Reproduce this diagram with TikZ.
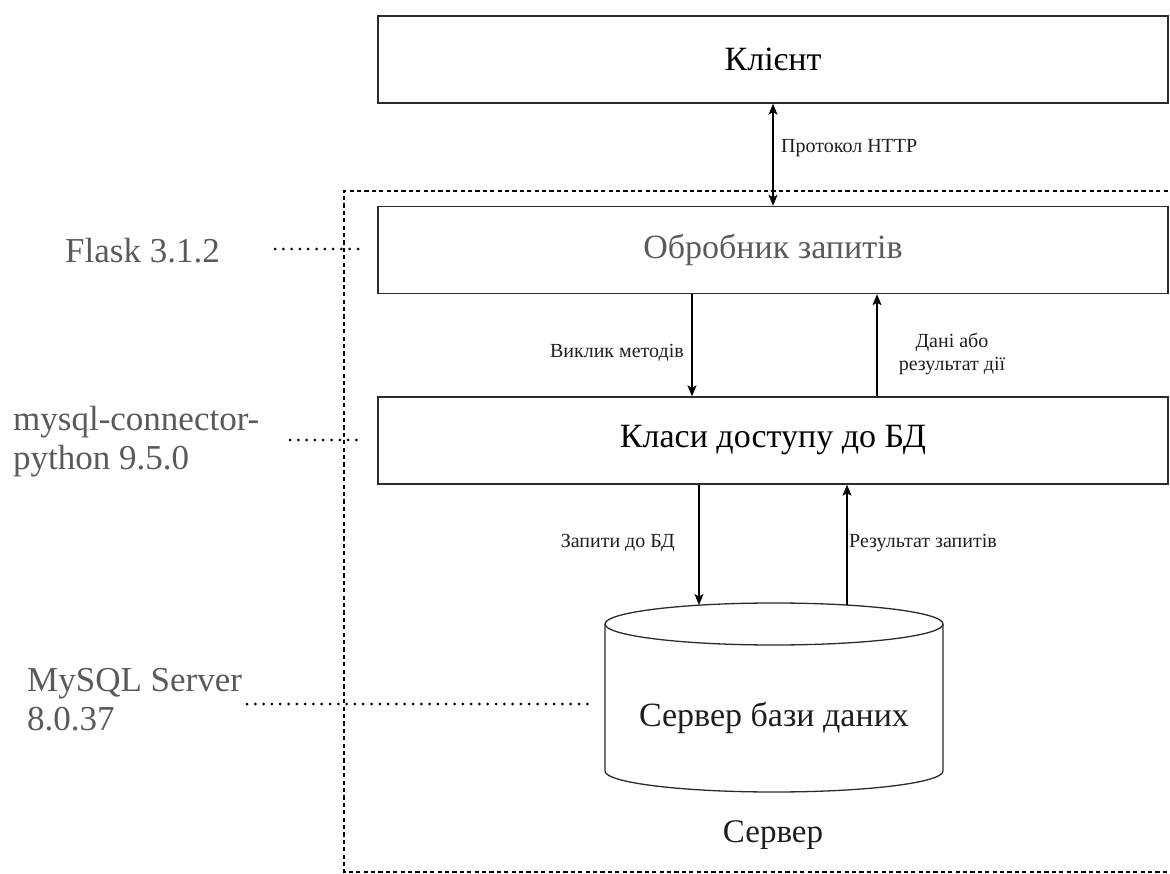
\documentclass[tikz,border=0pt]{standalone}
\usepackage{fontspec}
\setmainfont{Liberation Serif}
\usetikzlibrary{arrows.meta}
\definecolor{inkgray}{HTML}{5A5A5A}
\definecolor{edgeink}{HTML}{2B2B2B}
\definecolor{labelink}{HTML}{1E1E1E}
\begin{document}
\begin{tikzpicture}[x=1pt,y=-1pt,
  layer/.style={draw=edgeink, line width=1.4pt, minimum width=790pt,
    minimum height=87pt, inner sep=0pt, font=\fontsize{34}{40}\selectfont},
  arr/.style={draw=black, line width=1.1pt,
    -{Stealth[length=11pt,width=9pt,inset=2.5pt]}},
  biarr/.style={draw=black, line width=1.1pt,
    {Stealth[length=11pt,width=9pt,inset=2.5pt]}-{Stealth[length=11pt,width=9pt,inset=2.5pt]}},
  flowlabel/.style={inner sep=0pt, text=labelink, font=\fontsize{20}{23}\selectfont},
  techlabel/.style={inner sep=0pt, text=inkgray, align=left,
    font=\fontsize{35}{39}\selectfont},
  dotline/.style={draw=black, line width=3pt, line cap=round,
    dash pattern=on 0pt off 8.3pt},
  serverzone/.style={draw=black, line width=1.4pt, dash pattern=on 4.2pt off 3.2pt}
]
\useasboundingbox (0,0) rectangle (1170,874);

% server boundary (runs past the right edge of the page)
\draw[serverzone] (1190,191) -- (344,191) -- (344,872) -- (1190,872);

% layers
\node[layer, text=black] (client) at (773,59.5) {Клієнт};
\node[layer, text=inkgray] (handler) at (773,250) {Обробник запитів};
\node[layer, text=black] (dao) at (773,440.5) {Класи доступу до БД};

% database cylinder
\draw[edgeink, line width=1.3pt] (605,624) -- (605,771)
  arc[start angle=180, end angle=0, x radius=169, y radius=21] -- (943,624);
\draw[edgeink, line width=1.3pt] (774,624) ellipse [x radius=169, y radius=21];
\node[inner sep=0pt, font=\fontsize{34}{40}\selectfont, text=labelink] (db) at (774,718) {Сервер бази даних};
\node[inner sep=0pt, font=\fontsize{33}{40}\selectfont, text=labelink] (server) at (773,835) {Сервер};

% arrow columns
\coordinate (xcall) at (692,0);
\coordinate (xdata) at (877,0);
\coordinate (dbin) at (699,605);
\coordinate (dbout) at (847,605);

\draw[biarr] (client.south) -- (handler.north);
\draw[arr] (handler.south -| xcall) -- (dao.north -| xcall);
\draw[arr] (dao.north -| xdata) -- (handler.south -| xdata);
\draw[arr] (dao.south -| dbin) -- (dbin);
\draw[arr] (dbout) -- (dao.south -| dbout);

% arrow labels
\node[flowlabel, anchor=west] (lhttp) at (781,148) {Протокол HTTP};
\node[flowlabel, anchor=east] (lcall) at (684,353) {Виклик методів};
\node[flowlabel, align=center] (ldata) at (952,354) {Дані або\\результат дії};
\node[flowlabel, anchor=east] (lquery) at (675,543) {Запити до БД};
\node[flowlabel, anchor=west] (lresult) at (849,543) {Результат запитів};

% technology labels
\node[techlabel, anchor=west] (flask) at (65,251) {Flask 3.1.2};
\node[techlabel, anchor=west] (connector) at (13,442) {mysql-connector-\\python 9.5.0};
\node[techlabel, anchor=west] (mysql) at (27,700) {MySQL Server\\8.0.37};

\coordinate (f1) at (275,249);
\coordinate (f2) at (362,249);
\coordinate (c1) at (290,440);
\coordinate (c2) at (363,440);
\coordinate (m1) at (247,704);
\coordinate (m2) at (591,704);
\draw[dotline] (f1) -- (f2);
\draw[dotline] (c1) -- (c2);
\draw[dotline] (m1) -- (m2);
\end{tikzpicture}
\end{document}
